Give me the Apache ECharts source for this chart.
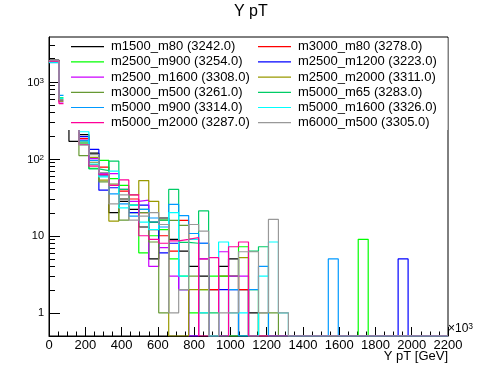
<!DOCTYPE html>
<html><head><meta charset="utf-8">
<script src="https://cdn.jsdelivr.net/npm/echarts@6/dist/echarts.min.js"></script>
<style>html,body{margin:0;padding:0;background:#fff}#c{width:498px;height:374px}</style>
</head><body><div id="c"></div>
<script>
// ---- data ----
const binWidth = 55;
const xMin = 0, xMax = 2200, xInterval = 200;
const yMin = 0.5, yMax = 3800;
const yDecades = [1, 10, 100, 1000];
const yDecadeLabels = ['{p|1}', '{p|10}', '{b|10}{s|2}', '{b|10}{s|3}'];
const yTickValues = [1,2,3,4,5,6,7,8,9,10,20,30,40,50,60,70,80,90,100,200,300,400,500,600,700,800,900,1000,2000,3000];

const seriesNames = ['m1500_m80 (3242.0)','m3000_m80 (3278.0)','m2500_m900 (3254.0)','m2500_m1200 (3223.0)',
  'm2500_m1600 (3308.0)','m2500_m2000 (3311.0)','m3000_m500 (3261.0)','m5000_m65 (3283.0)',
  'm5000_m900 (3314.0)','m5000_m1600 (3326.0)','m5000_m2000 (3287.0)','m6000_m500 (3305.0)'];

const m1500_m80   = [1900,575,168,205,118,62,20,28,22,13,5,17,9,6.3,4,3,2,4,5,2,1,0,0,0,0,0,0,0,0,0,0,0,0,0,0,0,0,0,0,0];
const m3000_m80   = [1880,570,280,182,84,78,45,38,30,20,12,10,6.3,15.8,9,5,2,3,3,2,0,0,0,0,0,0,0,0,0,0,0,0,0,0,0,0,0,0,0,0];
const m2500_m900  = [1780,620,300,170,75,95,55,45,20,6,10,12,5,3,1,2,3,3,3,7.2,2,0,0,0,0,0,0,0,0,0,0,9,0,0,0,0,0,0,0,0];
const m2500_m1200 = [1850,565,260,194,132,39,42,30,20,25,15,6,8,2,0,8,0,2,2,0,0,0,0,0,0,0,0,0,0,0,0,0,0,0,0,5,0,0,0,0];
const m2500_m1600 = [1860,545,290,175,100,64,64,40,28,29,4,7,3,2,0,5,0,6.2,3,3,0,0,0,0,0,0,0,0,0,0,0,0,0,0,0,0,0,0,0,0];
const m2500_m2000 = [1840,560,250,160,104,52.6,15.5,30,34,52,28,16,0,0,2,2,0,0,0,5.2,0,0,0,0,0,0,0,0,0,0,0,0,0,0,0,0,0,0,0,0];
const m3000_m500  = [1820,590,250,110,90,50,47,16,25,20,8.3,1,15.8,13.6,3,1,0,0,0,0,0,1,1,0,0,0,0,0,0,0,0,0,0,0,0,0,0,0,0,0];
const m5000_m65   = [1800,600,290,160,74,70,93,40,25,22,15,16,40,8.2,8,21,1,0,0,0,6.3,7.2,0,0,0,0,0,0,0,0,0,0,0,0,0,0,0,0,0,0];
const m5000_m900  = [1760,665,310,170,95,60,35,26,18,22,17,13,25.6,18.3,10.7,8,0,0,2,0,2,4,0,0,0,0,0,0,5,0,0,0,0,0,0,0,0,0,0,0];
const m5000_m1600 = [1790,610,300,224,85,58,69,23,25,15,12,14,20,3,9,1,0,8.3,1,1,0,3,8.3,1,0,0,0,0,0,0,0,0,0,0,0,0,0,0,0,0];
const m5000_m2000 = [1830,520,270,153,80,62,45,53,34,10,9,8,8.6,9,9.5,0,5.2,0,7.2,8.3,0,0,0,0,0,0,0,0,0,0,0,0,0,0,0,0,0,0,0,0];
const m6000_m500  = [1870,580,290,150,113,66,26,34,16,18,20,14,1,2,14,11.5,0,1,1,6.2,6.2,1,16.3,1,0,0,0,0,0,0,0,0,0,0,0,0,0,0,0,0];

const seriesValues = [m1500_m80,m3000_m80,m2500_m900,m2500_m1200,m2500_m1600,m2500_m2000,
  m3000_m500,m5000_m65,m5000_m900,m5000_m1600,m5000_m2000,m6000_m500];

// ---- style ----
const colors = ['#000000','#ff0000','#00ff00','#0000ff','#cc00ff','#999900',
  '#669933','#00cc66','#0099ff','#00ffff','#ff0099','#999999'];
const FONT = "'Liberation Sans', Arial, Helvetica, sans-serif";

function histPoints(vals) {
  const pts = [];
  vals.forEach((v, i) => {
    const y = v > 0 ? v : yMin;
    pts.push([i * binWidth, y]);
    pts.push([(i + 1) * binWidth, y]);
  });
  return pts;
}
function isDecade(v) { const l = Math.log10(v); return Math.abs(l - Math.round(l)) < 1e-6; }

const series = seriesNames.map((name, i) => ({
  type: 'line', name: name, data: histPoints(seriesValues[i]),
  symbol: 'none', showSymbol: false, color: colors[i],
  lineStyle: { width: 1.2, color: colors[i] }, itemStyle: { color: colors[i] },
  emphasis: { disabled: true },
  z: 2, animation: false, clip: true
}));
series.push({
  type: 'custom', name: 'yticks', silent: true, animation: false, z: 2, clip: false,
  data: yTickValues.map(v => [xMin, v]),
  renderItem: function (params, api) {
    const v = api.value(1);
    const p = api.coord([api.value(0), v]);
    const len = isDecade(v) ? 11 : 6;
    const y = Math.round(p[1]) + 0.5;
    return { type: 'line', shape: { x1: p[0], y1: y, x2: p[0] + len, y2: y },
      style: { stroke: '#000', lineWidth: 1 } };
  }
});

const leftNames = seriesNames.filter((_, i) => i % 2 === 0);
const rightNames = seriesNames.filter((_, i) => i % 2 === 1);
const legendBase = {
  orient: 'vertical', top: 40.2, padding: 0, icon: 'rect', itemWidth: 33, itemHeight: 1.2, itemGap: 2.2,
  selectedMode: false, z: 4,
  itemStyle: { borderWidth: 0 },
  textStyle: { fontFamily: FONT, fontSize: 13, lineHeight: 13, color: '#000', padding: [0, 0, 0, 2] }
};

const chart = echarts.init(document.getElementById('c'), null, { renderer: 'canvas' });
chart.setOption({
  animation: false,
  backgroundColor: '#fff',
  title: { text: 'Y pT', left: 234, top: 4, padding: 0,
    textStyle: { fontFamily: FONT, fontSize: 16, fontWeight: 'normal', color: '#000' } },
  grid: { left: 49, right: 50, top: 37, bottom: 38, show: true, borderColor: '#000', borderWidth: 1, backgroundColor: 'transparent' },
  legend: [
    Object.assign({}, legendBase, { left: 71, data: leftNames }),
    Object.assign({}, legendBase, { left: 258, data: rightNames })
  ],
  xAxis: {
    type: 'value', min: xMin, max: xMax, interval: xInterval,
    axisLine: { lineStyle: { color: '#000' } },
    axisTick: { inside: true, length: 9, lineStyle: { color: '#000' } },
    minorTick: { show: true, splitNumber: 4, length: 4.5, lineStyle: { color: '#000' } },
    splitLine: { show: false },
    axisLabel: { color: '#000', fontSize: 13, fontFamily: FONT, margin: 3,
      formatter: function (v) { return String(v); } }
  },
  yAxis: {
    type: 'log', logBase: 10, min: yMin, max: yMax,
    axisLine: { lineStyle: { color: '#000' } },
    axisTick: { show: false }, splitLine: { show: false },
    axisLabel: { color: '#000', fontFamily: FONT, margin: 5,
      showMinLabel: false, showMaxLabel: false,
      rich: {
        p: { fontSize: 11, fontFamily: FONT, color: '#000' },
        b: { fontSize: 11, fontFamily: FONT, color: '#000', padding: [3, 0, 0, 0], verticalAlign: 'bottom' },
        s: { fontSize: 8, fontFamily: FONT, color: '#000', padding: [0, 0, 3.5, 0], verticalAlign: 'bottom' }
      },
      formatter: function (v) {
        if (!isDecade(v)) return '';
        const idx = yDecades.findIndex(d => Math.abs(d - v) / d < 1e-6);
        return idx >= 0 ? yDecadeLabels[idx] : '';
      } }
  },
  graphic: [
    { type: 'rect', left: 63.5, top: 38, z: 3, silent: true,
      shape: { width: 384, height: 92 }, style: { fill: '#fff' } },
    { type: 'text', left: 448, top: 322, z: 5,
      style: { text: '{b|\u00d710}{s|3}', fill: '#000',
        rich: { b: { fontSize: 12, fontFamily: FONT, verticalAlign: 'bottom', padding: [3, 0, 0, 0] },
                s: { fontSize: 8.5, fontFamily: FONT, verticalAlign: 'bottom', padding: [0, 0, 4, 0] } } } },
    { type: 'text', right: 50, top: 349.5, z: 5,
      style: { text: 'Y pT [GeV]', font: '13px ' + FONT, fill: '#000' } }
  ],
  series: series
});
</script></body></html>
